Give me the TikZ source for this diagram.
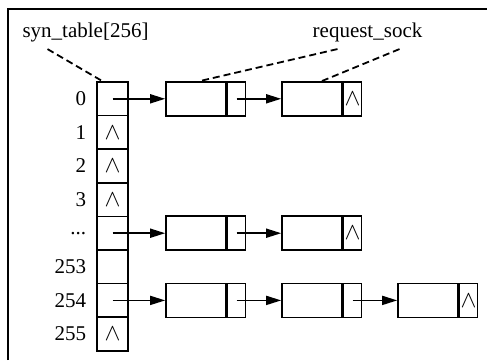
\documentclass[tikz,border=0pt]{standalone}
\usepackage{fontspec}
\setmainfont{Liberation Serif}
\usetikzlibrary{arrows.meta, positioning}

\tikzset{
    cell/.style={draw, line width=1.6pt, minimum width=31pt, minimum height=33.6pt, inner sep=0pt},
    datapart/.style={draw, line width=1.6pt, minimum width=60pt, minimum height=34pt, inner sep=0pt},
    ptrpart/.style={draw, line width=1.6pt, minimum width=18pt, minimum height=34pt, inner sep=0pt, anchor=west},
    idx/.style={anchor=east, inner sep=0pt},
    link/.style={line width=1.6pt, -{Triangle[length=15pt, width=9pt]}},
    note/.style={line width=1.8pt, dash pattern=on 7pt off 4pt}
}
\newcommand{\nil}{\scalebox{1.15}{$\wedge$}}

\begin{document}
\begin{tikzpicture}[x=1pt, y=-1pt, font=\fontsize{21}{24}\selectfont]
    \useasboundingbox (0,0) rectangle (487,360);
    \draw [line width=1.6pt] (8,360) -- (8,9) -- (487,9);

    % syn_table
    \node[cell] (t0) at (112.5,98.8) {};
    \node[cell] (t1) at (112.5,132.4) {\nil};
    \node[cell] (t2) at (112.5,166) {\nil};
    \node[cell] (t3) at (112.5,199.6) {\nil};
    \node[cell] (t4) at (112.5,233.2) {};
    \node[cell] (t5) at (112.5,266.8) {};
    \node[cell] (t6) at (112.5,300.4) {};
    \node[cell] (t7) at (112.5,334) {\nil};

    \node[idx, left=10pt of t0] {0};
    \node[idx, left=10pt of t1] {1};
    \node[idx, left=10pt of t2] {2};
    \node[idx, left=10pt of t3] {3};
    \node[idx, left=10pt of t4] {...};
    \node[idx, left=10pt of t5] {253};
    \node[idx, left=10pt of t6] {254};
    \node[idx, left=10pt of t7] {255};

    % request_sock lists
    \node[datapart] (a1) at (196,98.8) {};
    \node[ptrpart] (a1p) at (a1.east) {};
    \node[datapart] (a2) at (312,98.8) {};
    \node[ptrpart] (a2p) at (a2.east) {\nil};

    \node[datapart] (b1) at (196,233.2) {};
    \node[ptrpart] (b1p) at (b1.east) {};
    \node[datapart] (b2) at (312,233.2) {};
    \node[ptrpart] (b2p) at (b2.east) {\nil};

    \node[datapart] (c1) at (196,300.4) {};
    \node[ptrpart] (c1p) at (c1.east) {};
    \node[datapart] (c2) at (312,300.4) {};
    \node[ptrpart] (c2p) at (c2.east) {};
    \node[datapart] (c3) at (428,300.4) {};
    \node[ptrpart] (c3p) at (c3.east) {\nil};

    \draw[link] (t0.center) -- (a1.west);
    \draw[link] (a1p.center) -- (a2.west);
    \draw[link] (t4.center) -- (b1.west);
    \draw[link] (b1p.center) -- (b2.west);
    \draw[link] (t6.center) -- (c1.west);
    \draw[link] (c1p.center) -- (c2.west);
    \draw[link] (c2p.center) -- (c3.west);

    % labels
    \node (syn) at (85.5,32) {syn\_table[256]};
    \node (req) at (367.5,32) {request\_sock};
    \draw[note] ([xshift=-38pt, yshift=-4pt]syn.south) -- ([xshift=-10pt]t0.north);
    \draw[note] ([xshift=-30pt, yshift=-4pt]req.south) -- ([xshift=4pt]a1.north);
    \draw[note] ([xshift=32pt, yshift=-4pt]req.south) -- ([xshift=10pt]a2.north);
\end{tikzpicture}
\end{document}
